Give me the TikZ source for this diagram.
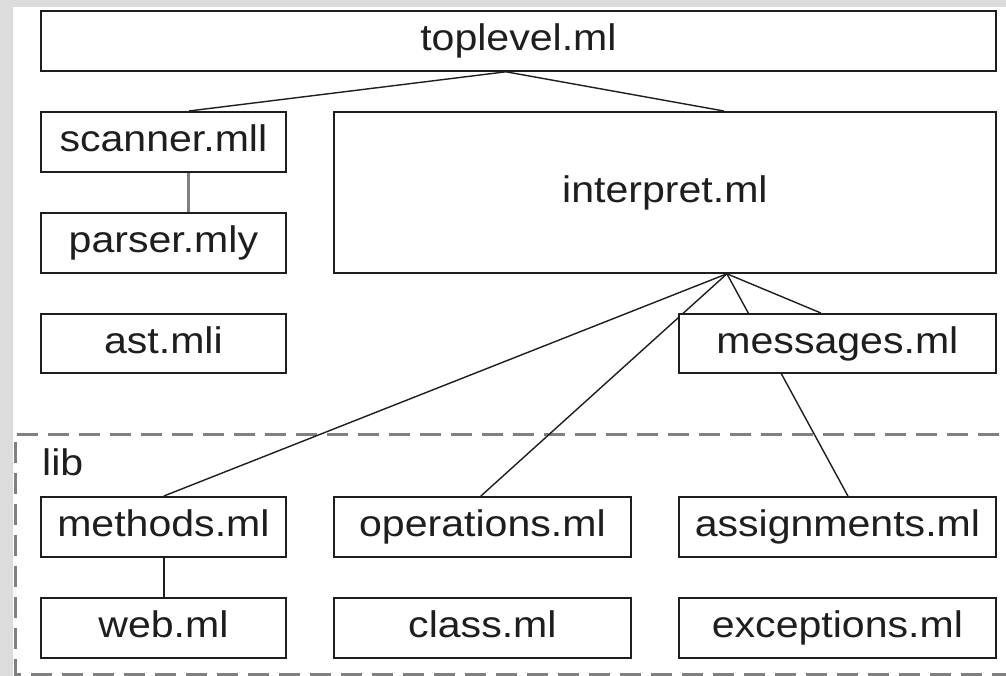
\documentclass[tikz,border=0pt]{standalone}
\usepackage{fontspec}
\setmainfont{Liberation Sans}[FakeStretch=1.11]
\pgfdeclarelayer{back}
\pgfdeclarelayer{wires}
\pgfsetlayers{back,wires,main}
\definecolor{framegray}{RGB}{220,220,220}
\definecolor{dashgray}{RGB}{128,128,128}
\definecolor{ink}{RGB}{30,30,30}
\tikzset{
  filebox/.style={draw=ink, line width=1.8pt, fill=white, anchor=north west,
    inner sep=0pt, text height=27pt, text depth=7pt, text=ink,
    font=\fontsize{37}{40}\selectfont},
  wire/.style={draw=ink, line width=1.4pt},
  graywire/.style={draw=dashgray, line width=3pt},
  libframe/.style={draw=dashgray, line width=3pt, dash pattern=on 21pt off 10pt}
}
\begin{document}
\begin{tikzpicture}[x=1pt,y=-1pt]
\useasboundingbox (0,0) rectangle (1006,676);
\begin{pgfonlayer}{back}
  \fill[white] (0,0) rectangle (1006,676);
  \fill[framegray] (0,0) rectangle (13,676);
  \fill[framegray] (0,0) rectangle (1006,7);
  \draw[libframe] (1030,434) -- (15,434) -- (15,674) -- (1030,674);
\end{pgfonlayer}

\node[filebox, minimum width=955pt, minimum height=60pt] (toplevel) at (40,10) {toplevel.ml};
\node[filebox, minimum width=245pt, minimum height=60pt] (scanner) at (40,111) {scanner.mll};
\node[filebox, minimum width=245pt, minimum height=60pt] (parser) at (40,212) {parser.mly};
\node[filebox, minimum width=245pt, minimum height=59pt] (ast) at (40,313) {ast.mli};
\node[filebox, minimum width=662pt, minimum height=161pt] (interpret) at (333,111) {interpret.ml};
\node[filebox, minimum width=317pt, minimum height=59pt] (messages) at (678,313) {messages.ml};
\node[anchor=base west, inner sep=0pt, text=ink, font=\fontsize{37}{40}\selectfont] (lib) at (42,475) {lib};
\node[filebox, minimum width=245pt, minimum height=60pt] (methods) at (40,496) {methods.ml};
\node[filebox, minimum width=297pt, minimum height=60pt] (operations) at (333,496) {operations.ml};
\node[filebox, minimum width=317pt, minimum height=60pt] (assignments) at (678,496) {assignments.ml};
\node[filebox, minimum width=245pt, minimum height=60pt] (web) at (40,597) {web.ml};
\node[filebox, minimum width=297pt, minimum height=60pt] (class) at (333,597) {class.ml};
\node[filebox, minimum width=317pt, minimum height=60pt] (exceptions) at (678,597) {exceptions.ml};

\begin{pgfonlayer}{wires}
  \draw[wire] ([xshift=-12.5pt]toplevel.south) -- ([xshift=25.5pt]scanner.north);
  \draw[wire] ([xshift=-12.5pt]toplevel.south) -- ([xshift=59pt]interpret.north);
  \draw[graywire] ([xshift=25.5pt]scanner.south) -- ([xshift=25.5pt]parser.north);
  \draw[wire] ([xshift=62pt]interpret.south) -- ([xshift=0.5pt]methods.north);
  \draw[wire] ([xshift=62pt]interpret.south) -- ([xshift=-1.5pt]operations.north);
  \draw[wire] ([xshift=62pt]interpret.south) -- ([xshift=10.5pt]assignments.north);
  \draw[wire] ([xshift=62pt]interpret.south) -- ([xshift=-16.5pt]messages.north);
  \draw[wire] ([xshift=0.5pt]methods.south) -- ([xshift=0.5pt]web.north);
\end{pgfonlayer}
\end{tikzpicture}
\end{document}
